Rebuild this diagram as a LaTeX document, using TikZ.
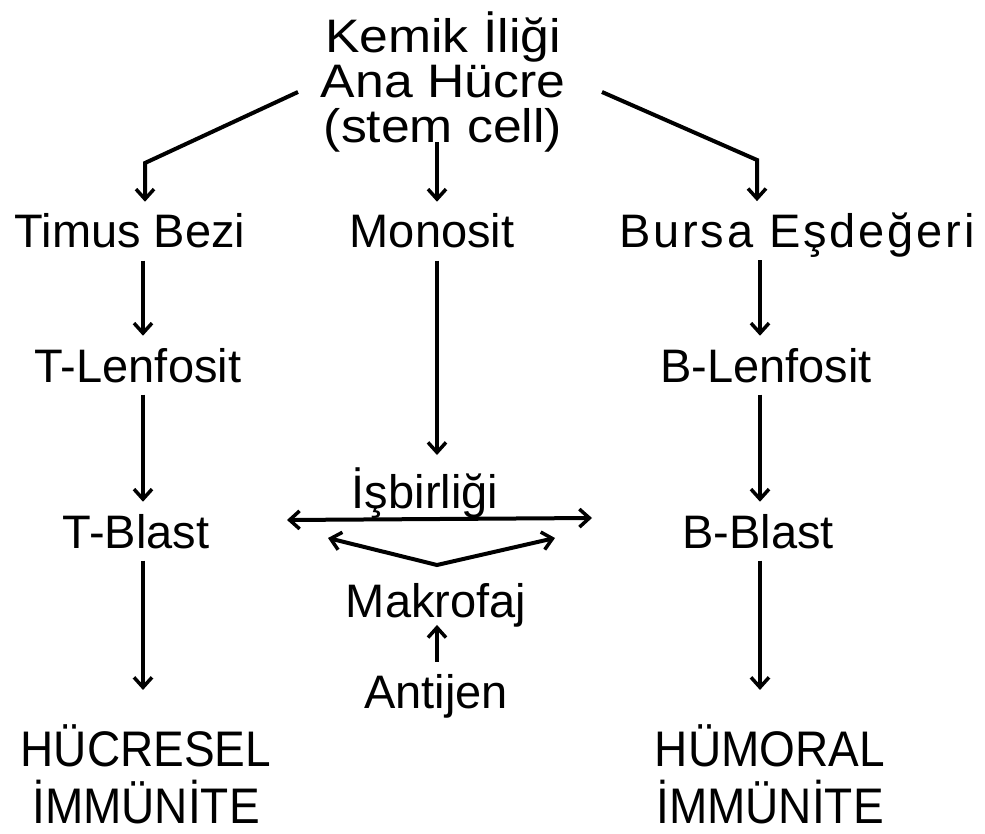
\documentclass[tikz,border=0pt]{standalone}
\usepackage{fontspec}
\setmainfont{Liberation Sans}
\newfontfamily\widecaps[FakeStretch=0.92]{Liberation Sans}
\newfontfamily\widetop[FakeStretch=1.1]{Liberation Sans}
\newfontfamily\spaced[LetterSpace=6]{Liberation Sans}
\usetikzlibrary{arrows.meta}
\begin{document}
\begin{tikzpicture}[x=1pt,y=-1pt,
  lbl/.style={font=\fontsize{47}{45}\selectfont, inner sep=12pt, anchor=base, align=center},
  res/.style={lbl, font=\widecaps\fontsize{50}{57}\selectfont},
  tip/.tip={Straight Barb[length=10pt,width=18pt,line width=3.5pt]},
  arr/.style={line width=4pt, -tip},
  darr/.style={line width=4pt, tip-tip}]
\useasboundingbox (0,0) rectangle (985,834);

% column guides
\coordinate (cL) at (143,0);
\coordinate (cM) at (437,0);
\coordinate (cR) at (760,0);

% labels (multi-line nodes are placed by their last baseline)
\node[lbl, font=\widetop\fontsize{47}{45}\selectfont] (stem) at (443,143) {Kemik İliği\\Ana Hücre\\(stem cell)};
\node[lbl] (timus) at (130,248) {Timus Bezi};
\node[lbl] (mono) at (432,248) {Monosit};
\node[lbl, font=\spaced\fontsize{47}{45}\selectfont] (bursa) at (797,248) {Bursa Eşdeğeri};
\node[lbl] (tlen) at (138,382) {T-Lenfosit};
\node[lbl] (blen) at (766,382) {B-Lenfosit};
\node[lbl] (isb) at (425,508) {İşbirliği};
\node[lbl] (tbl) at (136,548) {T-Blast};
\node[lbl] (bbl) at (758,548) {B-Blast};
\node[lbl] (mak) at (436,617) {Makrofaj};
\node[lbl] (ant) at (436,708) {Antijen};
\node[res] (huc) at (146,823) {HÜCRESEL\\İMMÜNİTE};
\node[res] (hum) at (770,823) {HÜMORAL\\İMMÜNİTE};

% bend points and free ends
\coordinate (sL) at (298,92);
\coordinate (kL) at (145,163);
\coordinate (sM) at (437,142);
\coordinate (sR) at (602,92);
\coordinate (kR) at (757,160);
\coordinate (iL) at (287,520);
\coordinate (iR) at (592,518);
\coordinate (vL) at (328,538);
\coordinate (vA) at (437,565);
\coordinate (vR) at (555,538);

% from the stem cell
\draw[arr] (sL) -- (kL) -- (timus.north -| kL);
\draw[arr] (sM) -- (mono.north -| cM);
\draw[arr] (sR) -- (kR) -- (bursa.north -| kR);

% T line
\draw[arr] (timus.south -| cL) -- (tlen.north -| cL);
\draw[arr] (tlen.south -| cL) -- (tbl.north -| cL);
\draw[arr] (tbl.south -| cL) -- ([yshift=22pt]huc.north -| cL);

% B line
\draw[arr] ([yshift=10pt]bursa.south -| cR) -- (blen.north -| cR);
\draw[arr] (blen.south -| cR) -- (bbl.north -| cR);
\draw[arr] (bbl.south -| cR) -- ([yshift=22pt]hum.north -| cR);

% monocyte to cooperation
\draw[arr] (mono.south -| cM) -- (isb.north -| cM);

% cooperation between T and B blasts
\draw[darr] (iL) -- (iR);
\draw[darr] (vL) -- (vA) -- (vR);

% antigen to macrophage
\draw[arr] (ant.north -| cM) -- ([yshift=14pt]mak.south -| cM);
\end{tikzpicture}
\end{document}
